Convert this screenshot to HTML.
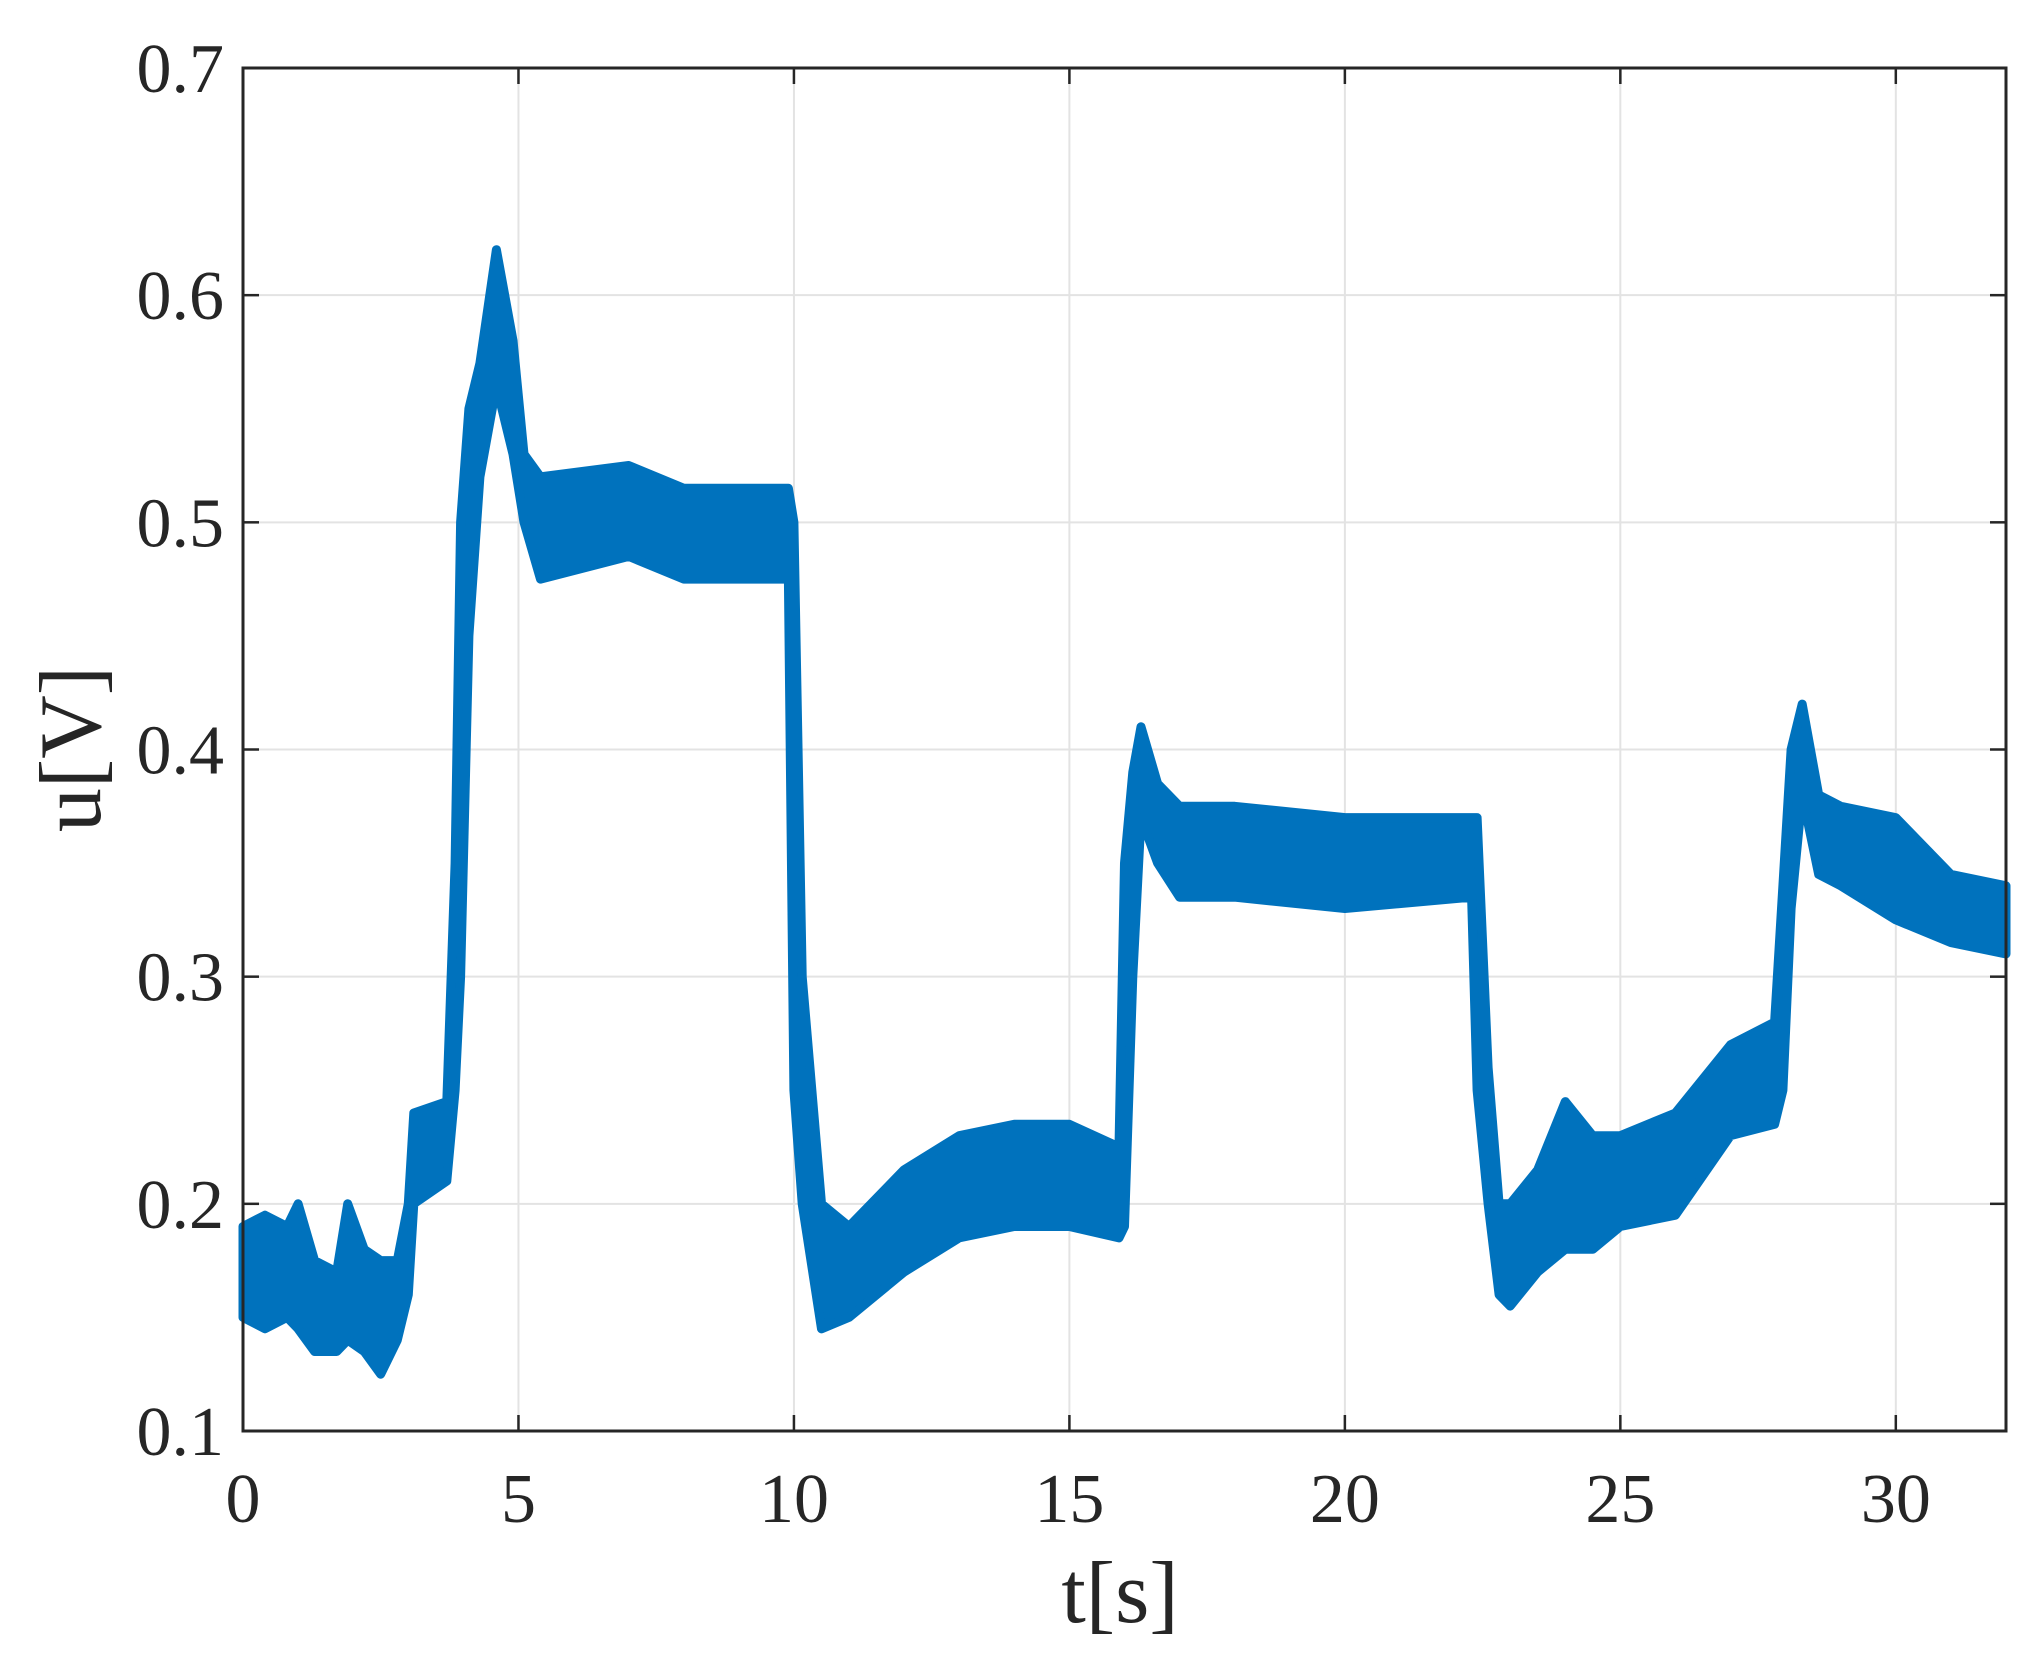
<!DOCTYPE html>
<html><head><meta charset="utf-8"><style>
html,body{margin:0;padding:0;background:#fff;}
svg{display:block;font-family:"Liberation Serif",serif;}
</style></head><body>
<svg id="chart" width="2042" height="1662" viewBox="0 0 2042 1662" xmlns="http://www.w3.org/2000/svg">
<g id="grid"></g>
<g id="series"></g>
<g id="axes"></g>
<text x="1120" y="1622" font-size="88" text-anchor="middle" fill="#262626">t[s]</text>
<text transform="translate(100,749) rotate(-90)" font-size="88" text-anchor="middle" fill="#262626">u[V]</text>
</svg>
<script>
const times = [0,0.4,0.8,1.0,1.3,1.7,1.9,2.2,2.5,2.8,3.0,3.1,3.7,3.85,3.95,4.1,4.3,4.6,4.9,5.1,5.4,7,8,9.9,10.0,10.15,10.5,11,12,13,14,15,15.9,16.0,16.15,16.3,16.6,17,18,20,22.3,22.4,22.6,22.8,23,23.5,24,24.5,25,26,27,27.8,27.95,28.1,28.3,28.6,29,30,31,32];
const lowVals = [0.15,0.145,0.15,0.145,0.135,0.135,0.14,0.135,0.125,0.14,0.16,0.2,0.21,0.25,0.3,0.45,0.52,0.56,0.53,0.5,0.475,0.485,0.475,0.475,0.25,0.2,0.145,0.15,0.17,0.185,0.19,0.19,0.185,0.19,0.3,0.37,0.35,0.335,0.335,0.33,0.335,0.25,0.2,0.16,0.155,0.17,0.18,0.18,0.19,0.195,0.23,0.235,0.25,0.33,0.38,0.345,0.34,0.325,0.315,0.31];
const highVals = [0.19,0.195,0.19,0.2,0.175,0.17,0.2,0.18,0.175,0.175,0.2,0.24,0.245,0.35,0.5,0.55,0.57,0.62,0.58,0.53,0.52,0.525,0.515,0.515,0.5,0.3,0.2,0.19,0.215,0.23,0.235,0.235,0.225,0.35,0.39,0.41,0.385,0.375,0.375,0.37,0.37,0.37,0.26,0.2,0.2,0.215,0.245,0.23,0.23,0.24,0.27,0.28,0.34,0.4,0.42,0.38,0.375,0.37,0.345,0.34];
const xTicks = [0,5,10,15,20,25,30];
const yTicks = [0.1,0.2,0.3,0.4,0.5,0.6,0.7];
const yTickLabels = ["0.1","0.2","0.3","0.4","0.5","0.6","0.7"];

const L=243,R=2006,T=68,B=1431,X0=0,X1=32,Y0=0.1,Y1=0.7;
function xs(t){return L+(t-X0)/(X1-X0)*(R-L);}
function ys(v){return B-(v-Y0)/(Y1-Y0)*(B-T);}
const NS="http://www.w3.org/2000/svg";
function mk(tag,attrs,parent){const e=document.createElementNS(NS,tag);for(const k in attrs)e.setAttribute(k,attrs[k]);parent.appendChild(e);return e;}
const grid=document.getElementById('grid'),axes=document.getElementById('axes'),series=document.getElementById('series');
xTicks.forEach(t=>{
  const g=mk('line',{x1:xs(t),x2:xs(t),y1:T,y2:B,stroke:'#e3e3e3','stroke-width':2},grid);
  
  
  mk('line',{x1:xs(t),x2:xs(t),y1:B,y2:B-16,stroke:'#262626','stroke-width':2.5},axes);
  mk('line',{x1:xs(t),x2:xs(t),y1:T,y2:T+16,stroke:'#262626','stroke-width':2.5},axes);
  const lb=mk('text',{x:xs(t),y:1522,'font-size':70,'text-anchor':'middle',fill:'#262626'},axes);
  lb.textContent=String(t);
  
  
});
yTicks.forEach((v,i)=>{
  const g=mk('line',{x1:L,x2:R,y1:ys(v),y2:ys(v),stroke:'#e3e3e3','stroke-width':2},grid);
  
  
  mk('line',{x1:L,x2:L+16,y1:ys(v),y2:ys(v),stroke:'#262626','stroke-width':2.5},axes);
  mk('line',{x1:R,x2:R-16,y1:ys(v),y2:ys(v),stroke:'#262626','stroke-width':2.5},axes);
  const lb=mk('text',{x:224,y:ys(v)+24,'font-size':70,'text-anchor':'end',fill:'#262626'},axes);
  lb.textContent=yTickLabels[i];
  
  
});
const frame=mk('rect',{x:L,y:T,width:R-L,height:B-T,fill:'none',stroke:'#262626','stroke-width':3},axes);


let d='';
times.forEach((t,i)=>{d+=(i?'L':'M')+xs(t).toFixed(1)+','+ys(highVals[i]).toFixed(1);});
for(let i=times.length-1;i>=0;i--){d+='L'+xs(times[i]).toFixed(1)+','+ys(lowVals[i]).toFixed(1);}
d+='Z';
const band=mk('path',{d:d,fill:'#0072BD',stroke:'#0072BD','stroke-width':9,'stroke-linejoin':'round'},series);


</script>
</body></html>
